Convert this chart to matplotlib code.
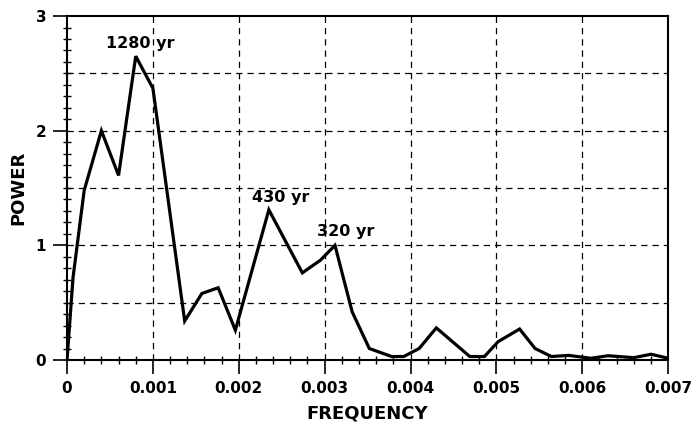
import numpy as np
import matplotlib.pyplot as plt
from matplotlib.ticker import MultipleLocator

plt.rcParams['font.family'] = ['DejaVu Sans']
plt.rcParams['font.weight'] = 'bold'

# spectrum
freq = [0.0, 0.00007, 0.0002, 0.0004, 0.0006, 0.0008, 0.001, 0.00137, 0.00157,
        0.00176, 0.00196, 0.00235, 0.00274, 0.00295, 0.00312, 0.00332, 0.00352,
        0.00378, 0.00392, 0.0041, 0.0043, 0.00469, 0.00486, 0.00502, 0.00527,
        0.00545, 0.00564, 0.00584, 0.0061, 0.0063, 0.0066, 0.0068, 0.007]
power = [0.0, 0.72, 1.48, 2.0, 1.61, 2.65, 2.37, 0.34, 0.58,
         0.63, 0.26, 1.31, 0.76, 0.87, 1.0, 0.42, 0.10,
         0.03, 0.03, 0.10, 0.28, 0.03, 0.03, 0.16, 0.27,
         0.10, 0.03, 0.04, 0.015, 0.037, 0.02, 0.05, 0.015]

xticks = [0, 0.001, 0.002, 0.003, 0.004, 0.005, 0.006, 0.007]
xtick_labels = ['0', '0.001', '0.002', '0.003', '0.004', '0.005', '0.006', '0.007']
yticks = [0, 1, 2, 3]

peak_labels = ['1280 yr', '430 yr', '320 yr']
peak_x = [0.00085, 0.00249, 0.00324]
peak_y = [2.76, 1.42, 1.12]

fig = plt.figure(figsize=(6.91, 4.23), dpi=100)
ax = fig.add_axes([0.097, 0.149, 0.870, 0.813])

# dashed grid
for xv in xticks[1:-1]:
    ax.axvline(xv, color='black', lw=0.9, ls=(0, (5, 4)), zorder=1)
for yv in np.arange(0.5, 3.0, 0.5):
    ax.axhline(yv, color='black', lw=0.9, ls=(0, (5, 4)), zorder=1)

ax.plot(freq, power, color='black', lw=2.3, solid_joinstyle='miter', zorder=3)

for lab, x, y in zip(peak_labels, peak_x, peak_y):
    ax.text(x, y, lab, ha='center', va='center', fontsize=11.5, fontweight='bold')

ax.set_xlim(0, 0.007)
ax.set_ylim(0, 3)
ax.set_xticks(xticks)
ax.set_xticklabels(xtick_labels)
ax.set_yticks(yticks)
ax.xaxis.set_minor_locator(MultipleLocator(0.0002))
ax.yaxis.set_minor_locator(MultipleLocator(0.1))
ax.tick_params(which='major', length=10, width=1.2, labelsize=11, direction='out')
ax.tick_params(which='minor', length=6, width=1, direction='inout')
ax.tick_params(axis='x', pad=5)
ax.tick_params(axis='y', pad=5)

for s in ax.spines.values():
    s.set_linewidth(1.5)

ax.set_xlabel('FREQUENCY', fontsize=13, fontweight='bold', labelpad=6.5)
ax.set_ylabel('POWER', fontsize=13, fontweight='bold', labelpad=6)

fig.savefig('out.png', dpi=100)
